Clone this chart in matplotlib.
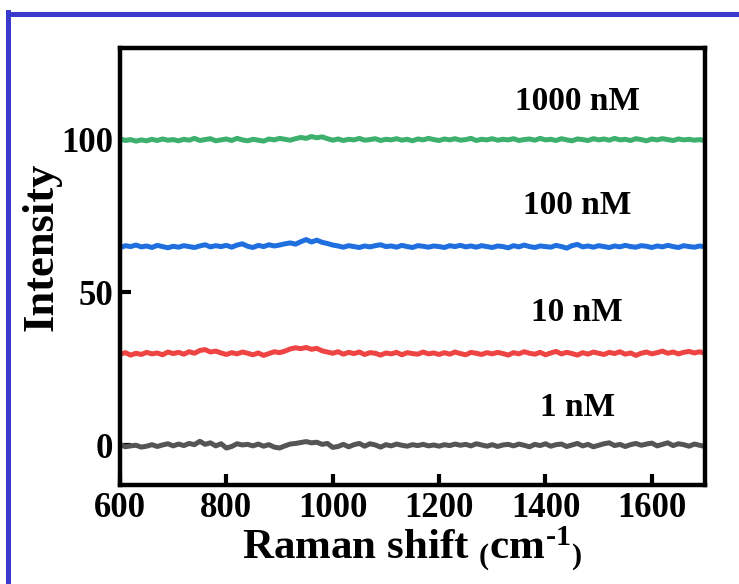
import numpy as np
import matplotlib
matplotlib.use("Agg")
import matplotlib.pyplot as plt
from matplotlib.lines import Line2D

# -----------------------------
# Data
# -----------------------------
raman_shift = np.arange(600, 1701, 10)

intensity_1nM = [
    0.3, -0.5, -0.2, 0.0, -0.6, -0.3, 0.2, -0.4, 0.1, 0.5, -0.2,
    0.4, -0.1, 0.6, 0.2, 1.3, 0.3, 0.8, -0.2, 0.5, -0.9,
    -0.4, 0.5, 0.1, 0.3, -0.2, 0.4, -0.3, 0.2, -0.6, -0.9,
    -0.2, 0.4, 0.6, 0.9, 1.2, 0.8, 1.0, 0.3, 0.6, -0.7,
    -0.4, 0.3, -0.5, 0.2, 0.6, -0.3, 0.5, 0.1, -0.6, 0.2,
    -0.2, 0.4, 0.0, -0.3, 0.2, -0.1, 0.3, -0.2, 0.1, -0.3,
    0.2, -0.1, 0.4, 0.0, 0.3, -0.2, 0.5, 0.1, -0.3, 0.2,
    -0.4, 0.1, 0.3, -0.2, 0.4, 0.0, -0.5, 0.3, -0.1, 0.5,
    -0.3, 0.2, 0.4, -0.4, 0.1, 0.6, -0.2, 0.3, -0.5, 0.0,
    0.5, 0.8, -0.1, 0.3, -0.4, 0.2, 0.6, 0.0, 0.4, 0.7,
    -0.2, 0.3, 0.8, -0.1, 0.5, 0.2, -0.3, 0.4, 0.0, -0.4,
]

intensity_10nM = [
    29.8, 30.3, 29.5, 30.1, 29.7, 30.4, 29.9, 30.2, 29.6, 30.5, 30.0,
    30.4, 29.8, 30.6, 30.1, 31.0, 31.3, 30.5, 30.8, 30.2, 29.7,
    30.3, 29.9, 30.5, 30.1, 29.6, 30.2, 29.4, 30.0, 30.6, 30.3,
    30.8, 31.5, 31.9, 31.6, 32.0, 31.4, 31.7, 30.9, 30.5, 30.1,
    30.6, 29.8, 30.4, 30.0, 30.5, 29.7, 30.3, 30.1, 29.5, 30.2,
    29.9, 30.4, 29.6, 30.3, 30.0, 29.8, 30.5, 29.9, 30.2, 29.7,
    30.3, 29.8, 30.5, 30.0, 29.6, 30.4, 30.1, 29.7, 30.3, 29.9,
    30.4, 30.0, 29.5, 30.3, 29.9, 30.6, 30.1, 29.8, 30.4, 29.6,
    30.2, 30.7, 29.9, 30.4, 30.0, 29.5, 30.3, 29.8, 30.5, 30.1,
    29.7, 30.4, 30.0, 30.6, 29.8, 30.2, 29.4, 30.1, 30.5, 29.9,
    30.3, 30.8, 30.1, 30.5, 29.9, 30.4, 30.7, 30.2, 30.6, 30.0,
]

intensity_100nM = [
    64.6, 65.3, 65.0, 65.5, 64.9, 65.2, 64.7, 65.4, 65.0, 64.6, 65.1,
    64.8, 65.3, 65.0, 64.7, 65.2, 65.6, 64.9, 65.3, 65.0, 65.4,
    64.8, 65.5, 65.9, 65.1, 64.7, 65.4, 65.0, 65.6, 65.2, 65.5,
    65.9, 66.2, 65.8, 66.6, 67.3, 66.5, 67.1, 66.4, 66.0, 65.5,
    65.2, 64.8, 65.3, 65.0, 64.7, 65.2, 64.9, 65.3, 65.6, 65.0,
    65.2, 64.8, 65.4, 65.0, 64.7, 65.3, 65.1, 64.8, 65.2, 65.0,
    64.7, 65.3, 65.0, 65.4, 64.9, 65.2, 64.8, 65.3, 65.0, 64.7,
    65.2, 65.0, 64.6, 65.3, 64.9, 65.5, 65.0, 64.7, 65.2, 65.0,
    64.8, 65.4, 65.0, 64.5, 65.3, 65.7, 64.9, 65.2, 64.8, 65.3,
    65.0, 64.7, 65.2, 64.9, 65.4, 65.0, 64.8, 65.3, 65.1, 64.7,
    65.2, 64.9, 65.4, 65.0, 64.7, 65.3, 65.0, 64.8, 65.2, 64.9,
]

intensity_1000nM = [
    100.3, 99.7, 100.0, 99.5, 99.9, 99.6, 100.1, 99.7, 100.2, 99.8, 100.0,
    99.6, 100.1, 99.8, 100.4, 99.7, 100.0, 100.3, 99.6, 99.9, 100.2,
    99.7, 100.4, 99.9, 99.6, 100.1, 99.8, 99.5, 100.2, 99.9, 100.4,
    100.1, 99.8, 100.3, 100.7, 100.4, 101.0, 100.6, 100.9, 100.3, 99.8,
    100.2, 99.7, 100.1, 99.9, 100.4, 99.8, 100.0, 100.3, 99.7, 100.1,
    99.9, 100.3, 99.8, 100.1, 99.6, 100.2, 99.9, 100.4, 100.0, 99.7,
    100.2, 99.9, 100.3, 99.8, 100.0, 100.4, 99.7, 100.1, 99.9, 100.3,
    99.8, 100.1, 99.9, 100.3, 99.7, 100.0, 100.2, 99.8, 100.4, 99.9,
    100.1, 99.7, 100.3, 99.9, 99.6, 100.2, 100.0, 99.7, 100.3, 99.9,
    100.2, 99.8, 100.4, 99.9, 100.1, 99.7, 100.3, 100.0, 99.6, 100.2,
    99.9, 100.3, 100.0, 99.7, 100.2, 99.9, 100.1, 99.8, 100.0, 99.6,
]

series = [intensity_1nM, intensity_10nM, intensity_100nM, intensity_1000nM]
labels = ["1 nM", "10 nM", "100 nM", "1000 nM"]
colors = ["#555555", "#ee4444", "#1f6fdf", "#3cb06c"]
label_pos = [(1460, 12.5), (1460, 43.5), (1460, 78.5), (1460, 112.5)]

x_ticks = [600, 800, 1000, 1200, 1400, 1600]
y_ticks = [0, 50, 100]

# -----------------------------
# Style
# -----------------------------
plt.rcParams['font.family'] = ['Liberation Serif', 'DejaVu Serif']
plt.rcParams['font.weight'] = 'bold'
plt.rcParams['mathtext.fontset'] = 'custom'
plt.rcParams['mathtext.rm'] = 'Liberation Serif:bold'
plt.rcParams['mathtext.it'] = 'Liberation Serif:bold'
plt.rcParams['mathtext.bf'] = 'Liberation Serif:bold'

fig = plt.figure(figsize=(7.39, 5.84), dpi=100)
ax = fig.add_axes([0.1624, 0.1695, 0.7916, 0.7485])

for y, c in zip(series, colors):
    ax.plot(raman_shift, y, color=c, lw=3.6, solid_joinstyle='round')

for (lx, ly), txt in zip(label_pos, labels):
    ax.text(lx, ly, txt, ha='center', va='center', fontsize=24, fontweight='bold')

ax.set_xlim(600, 1700)
ax.set_ylim(-13, 130)
ax.set_xticks(x_ticks)
ax.set_yticks(y_ticks)
ax.tick_params(direction='in', length=8, width=3, labelsize=25, pad=5)
for s in ax.spines.values():
    s.set_linewidth(3.2)

ax.set_xlabel(r"Raman shift $_{(}\mathrm{cm}^{\text{-}1}{}_{)}$", fontsize=31, fontweight='bold', labelpad=0)
ax.set_ylabel("Intensity", fontsize=32, fontweight='bold')
ax.yaxis.set_label_coords(-0.10, 0.545)

# blue frame on the left and top edges
frame_color = "#3a3acc"
fig.add_artist(Line2D([8 / 739, 8 / 739], [0, 1 - 12 / 584], transform=fig.transFigure,
                      color=frame_color, lw=3.6, solid_capstyle='projecting'))
fig.add_artist(Line2D([8 / 739, 1], [1 - 14 / 584, 1 - 14 / 584], transform=fig.transFigure,
                      color=frame_color, lw=3.6, solid_capstyle='projecting'))

fig.savefig("out.png", dpi=100)
